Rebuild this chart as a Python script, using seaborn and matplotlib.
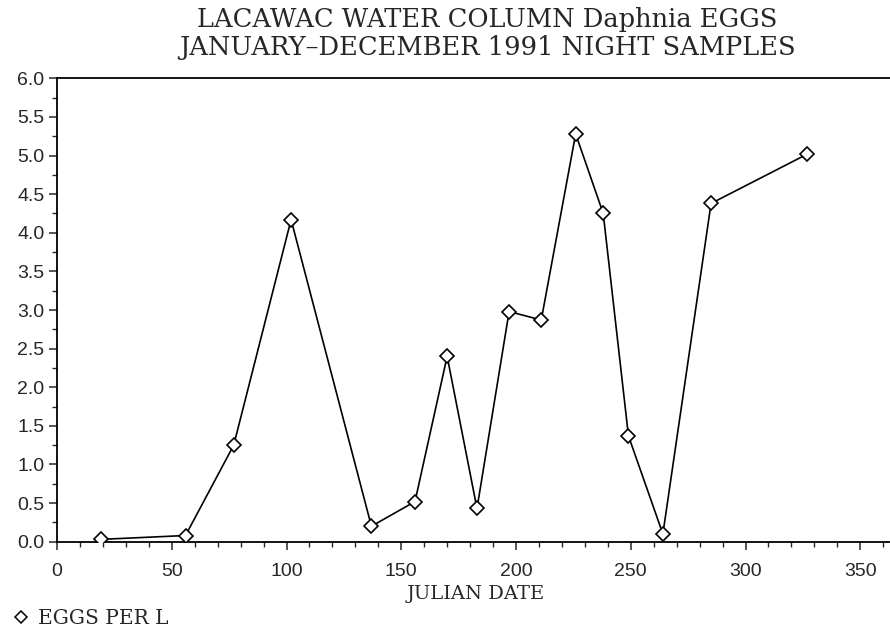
import matplotlib
matplotlib.use("Agg")
import matplotlib.pyplot as plt
from matplotlib.lines import Line2D
from matplotlib.ticker import MultipleLocator, FormatStrFormatter
import seaborn as sns
import pandas as pd

# Julian sampling dates and Daphnia eggs per litre (night samples, 1991)
julian_date = [19, 56, 77, 102, 137, 156, 170, 183, 197, 211, 226, 238, 249, 264, 285, 327]
eggs_per_l = [0.03, 0.08, 1.25, 4.17, 0.20, 0.52, 2.40, 0.43, 2.98, 2.87, 5.28, 4.25, 1.37, 0.10, 4.38, 5.02]

title_lines = ["LACAWAC WATER COLUMN Daphnia EGGS", "JANUARY\u2013DECEMBER 1991 NIGHT SAMPLES"]
x_label = "JULIAN DATE"
series_label = "EGGS PER L"

df = pd.DataFrame({"day": julian_date, "eggs": eggs_per_l})

sns.set_style("ticks")
plt.rcParams["font.family"] = ["DejaVu Serif"]

fig = plt.figure(figsize=(8.9, 6.31), dpi=100)
ax = fig.add_axes([57 / 890, 1 - 541.7 / 631, (365 * 2.295) / 890, (541.7 - 78.3) / 631])

sns.lineplot(data=df, x="day", y="eggs", ax=ax, color="black", linewidth=1.2,
             marker="D", markersize=7.5, markerfacecolor="white",
             markeredgecolor="black", markeredgewidth=1.2, zorder=3)

ax.set_xlim(0, 365)
ax.set_ylim(0, 6.0)
ax.xaxis.set_major_locator(MultipleLocator(50))
ax.xaxis.set_minor_locator(MultipleLocator(10))
ax.yaxis.set_major_locator(MultipleLocator(0.5))
ax.yaxis.set_minor_locator(MultipleLocator(0.25))
ax.yaxis.set_major_formatter(FormatStrFormatter("%.1f"))
ax.tick_params(which="major", direction="out", length=6, width=1.1)
ax.tick_params(which="minor", direction="out", length=3.5, width=1.0)
ax.tick_params(axis="x", which="major", pad=9)
ax.tick_params(axis="y", which="major", pad=3)
for lab in ax.get_xticklabels() + ax.get_yticklabels():
    lab.set_fontfamily("Liberation Sans")
    lab.set_fontsize(14)

for side in ["left", "bottom", "top"]:
    ax.spines[side].set_linewidth(1.3)
    ax.spines[side].set_color("black")
ax.spines["right"].set_visible(False)

ax.set_xlabel(x_label, fontsize=14, labelpad=4)
ax.set_ylabel("")

fig.text(487 / 890, 1 - 19 / 631, title_lines[0], ha="center", va="center", fontsize=18.5)
fig.text(487 / 890, 1 - 48 / 631, title_lines[1], ha="center", va="center", fontsize=18.5)

handle = Line2D([], [], linestyle="none", marker="D", markersize=6.5,
                markerfacecolor="white", markeredgecolor="black", markeredgewidth=1.1)
fig.legend([handle], [series_label], loc="center left", bbox_to_anchor=(0.003, 1 - 619 / 631),
           frameon=False, fontsize=14.5, handlelength=1.0, handletextpad=0.35, borderaxespad=0)

fig.savefig("out.png", dpi=100)
